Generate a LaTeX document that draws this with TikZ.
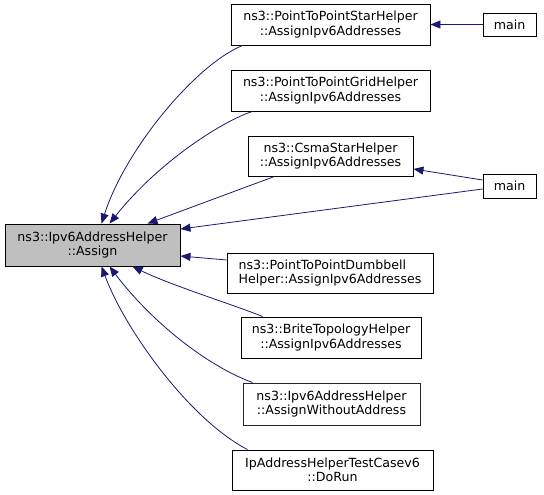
\documentclass[tikz,border=0pt]{standalone}
\usepackage{fontspec}
\setmainfont{DejaVu Sans}
\usetikzlibrary{arrows.meta}
\definecolor{edgeblue}{HTML}{191970}
\definecolor{hlgray}{HTML}{BFBFBF}
\begin{document}
\begin{tikzpicture}[x=1bp,y=-1bp,
  box/.style={draw=black, fill=white, line width=0.9bp, inner sep=0pt, align=center,
    font=\fontsize{12.6bp}{14.5bp}\selectfont},
  edge/.style={draw=edgeblue, line width=0.8bp, -{Triangle[length=10bp,width=8bp]}}]
\useasboundingbox (0,0) rectangle (544,495);
\node[box, fill=hlgray, minimum width=175bp, minimum height=42bp] (assign) at (92.5,245) {ns3::Ipv6AddressHelper\\::Assign};
\node[box, minimum width=199bp, minimum height=41bp] (star) at (330.5,24.5) {ns3::PointToPointStarHelper\\::AssignIpv6Addresses};
\node[box, minimum width=53bp, minimum height=23bp] (main1) at (509.5,24.5) {main};
\node[box, minimum width=199bp, minimum height=41bp] (grid) at (330.5,90.5) {ns3::PointToPointGridHelper\\::AssignIpv6Addresses};
\node[box, minimum width=165bp, minimum height=40bp] (csma) at (330.5,156) {ns3::CsmaStarHelper\\::AssignIpv6Addresses};
\node[box, minimum width=53bp, minimum height=24bp] (main2) at (509.5,186) {main};
\node[box, align=left, minimum width=206bp, minimum height=40bp] (dumb) at (330,273) {ns3::PointToPointDumbbell\\Helper::AssignIpv6Addresses};
\node[box, minimum width=180bp, minimum height=41bp] (brite) at (331,337.5) {ns3::BriteTopologyHelper\\::AssignIpv6Addresses};
\node[box, draw=black!85, minimum width=177bp, minimum height=42bp] (without) at (331.5,404) {ns3::Ipv6AddressHelper\\::AssignWithoutAddress};
\node[box, minimum width=201bp, minimum height=40bp] (dorun) at (332.5,470) {IpAddressHelperTestCasev6\\::DoRun};

\draw[edge] (main1.west) -- (star.east);
\draw[edge] ([yshift=6bp]main2.west) -- ([yshift=-13bp]csma.east);
\draw[edge] ([yshift=-3bp]main2.west) -- ([yshift=16bp]assign.east);
\draw[edge] ([xshift=12bp]star.south west) .. controls (195,65) and (125,150) .. ([xshift=97bp]assign.north west);
\draw[edge] ([xshift=22bp]grid.south west) .. controls (225,120) and (160,160) .. ([xshift=105bp]assign.north west);
\draw[edge] ([xshift=27bp]csma.south west) -- ([xshift=143bp]assign.north west);
\draw[edge] ([yshift=13bp]dumb.west) -- ([yshift=-11bp]assign.east);
\draw[edge] ([xshift=22bp]brite.north west) .. controls (240,307) and (170,285) .. ([xshift=128bp]assign.south west);
\draw[edge] ([xshift=10bp]without.north west) .. controls (205,365) and (150,320) .. ([xshift=105bp]assign.south west);
\draw[edge] ([xshift=16bp]dorun.north west) .. controls (190,420) and (125,330) .. ([xshift=97bp]assign.south west);
\end{tikzpicture}
\end{document}
